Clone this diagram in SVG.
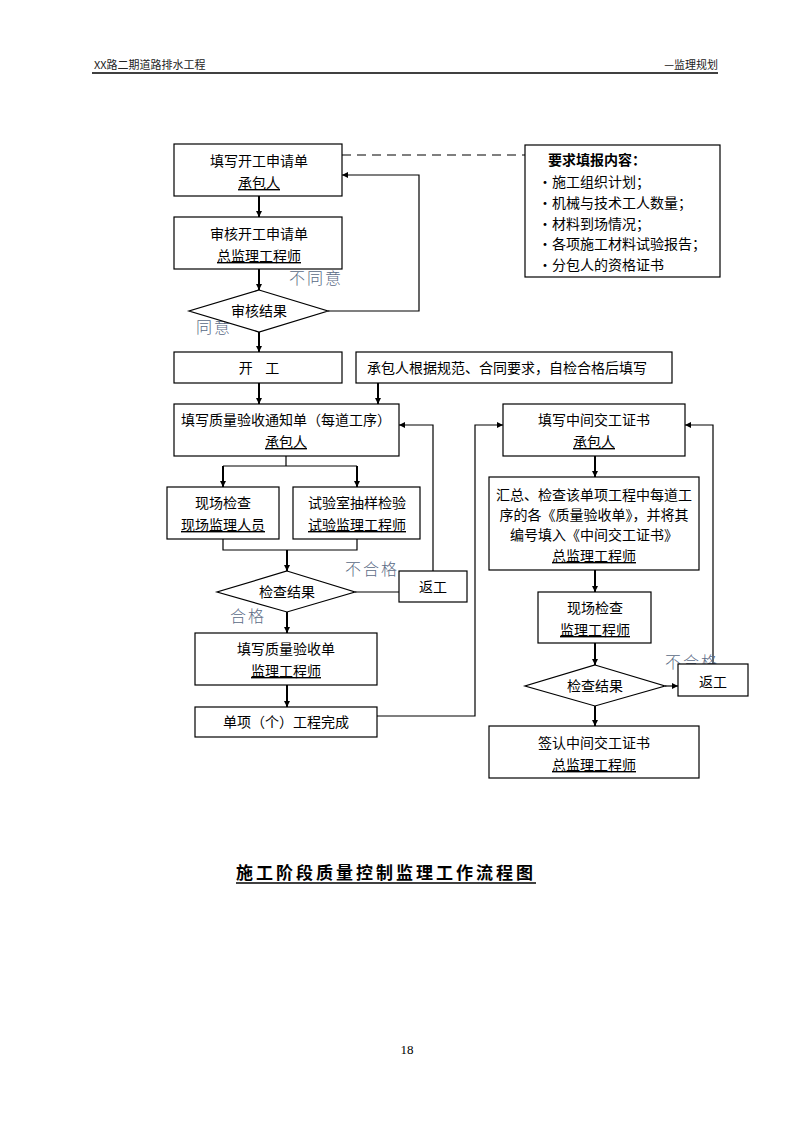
<svg xmlns="http://www.w3.org/2000/svg" width="794" height="1123" viewBox="0 0 794 1123">
<defs>
<marker id="ah" viewBox="0 0 10 10" refX="10" refY="5" markerWidth="6" markerHeight="6" markerUnits="userSpaceOnUse" orient="auto">
<path d="M0,0 L10,5 L0,10 z" fill="#000"/>
</marker>
</defs>
<style>
.box{fill:#fff;stroke:#000;stroke-width:1.2}
.t{font-family:"Noto Sans CJK SC","Noto Sans CJK JP",sans-serif;font-size:14px;fill:#000;text-anchor:middle}
.tl{font-family:"Noto Sans CJK SC","Noto Sans CJK JP",sans-serif;font-size:14px;fill:#000}
.u{text-decoration:underline}
.lab{font-family:"Noto Sans CJK SC","Noto Sans CJK JP",sans-serif;font-size:16px;fill:#5a6a85;letter-spacing:2px;font-weight:300}
.thick{stroke:#000;stroke-width:2;fill:none}
.thin{stroke:#000;stroke-width:1.2;fill:none}
.hdr{font-family:"Noto Sans CJK SC",sans-serif;font-size:11px;fill:#222}
</style>
<rect width="794" height="1123" fill="#fff"/>
<g id="header">
<text class="hdr" x="94" y="69">XX路二期道路排水工程</text>
<text class="hdr" x="718" y="69" text-anchor="end">—监理规划</text>
<line x1="92" y1="73" x2="718" y2="73" stroke="#000" stroke-width="1.5"/>
</g>
<g id="connectors">
<line x1="342" y1="155" x2="525" y2="155" stroke="#000" stroke-width="1.2" stroke-dasharray="9,6"/>
<line class="thick" x1="259" y1="196" x2="259" y2="217" marker-end="url(#ah)"/>
<line class="thick" x1="259" y1="269" x2="259" y2="290" marker-end="url(#ah)"/>
<polyline class="thin" points="328,311 419,311 419,175 342,175" marker-end="url(#ah)"/>
<line class="thick" x1="259" y1="332" x2="259" y2="352" marker-end="url(#ah)"/>
<line class="thick" x1="259" y1="383" x2="259" y2="404" marker-end="url(#ah)"/>
<line class="thick" x1="378" y1="383" x2="378" y2="404" marker-end="url(#ah)"/>
<line class="thin" x1="286" y1="456" x2="286" y2="466"/>
<line class="thin" x1="223" y1="466" x2="357" y2="466"/>
<line class="thick" x1="223" y1="466" x2="223" y2="487" marker-end="url(#ah)"/>
<line class="thick" x1="357" y1="466" x2="357" y2="487" marker-end="url(#ah)"/>
<polyline class="thin" points="223,539 223,550 357,550 357,539"/>
<line class="thick" x1="287" y1="550" x2="287" y2="571" marker-end="url(#ah)"/>
<line class="thin" x1="355" y1="592" x2="399" y2="592"/>
<polyline class="thin" points="433,571 433,425 399,425" marker-end="url(#ah)"/>
<line class="thick" x1="287" y1="612" x2="287" y2="633" marker-end="url(#ah)"/>
<line class="thick" x1="287" y1="685" x2="287" y2="707" marker-end="url(#ah)"/>
<polyline class="thin" points="377,716 475,716 475,425 503,425" marker-end="url(#ah)"/>
<line class="thick" x1="595" y1="456" x2="595" y2="477" marker-end="url(#ah)"/>
<line class="thick" x1="595" y1="570" x2="595" y2="592" marker-end="url(#ah)"/>
<line class="thick" x1="595" y1="643" x2="595" y2="665" marker-end="url(#ah)"/>
<line class="thin" x1="665" y1="686" x2="678" y2="686" marker-end="url(#ah)"/>
<polyline class="thin" points="713,664 713,425 685,425" marker-end="url(#ah)"/>
<line class="thick" x1="595" y1="706" x2="595" y2="726" marker-end="url(#ah)"/>
</g>
<g id="labels">
<text class="lab" x="289" y="284">不同意</text>
<text class="lab" x="196" y="333">同意</text>
<text class="lab" x="345" y="575">不合格</text>
<text class="lab" x="230" y="622">合格</text>
<text class="lab" x="665" y="668">不合格</text>
</g>
<g id="n1"><rect class="box" x="174" y="144" width="168" height="52"/>
<text class="t" x="259" y="166">填写开工申请单</text><text class="t u" x="259" y="188">承包人</text></g>
<g id="n2"><rect class="box" x="174" y="217" width="168" height="52"/>
<text class="t" x="259" y="239">审核开工申请单</text><text class="t u" x="259" y="261">总监理工程师</text></g>
<g id="n3"><polygon class="box" points="259,290 328,311 259,332 189,311"/>
<text class="t" x="259" y="316">审核结果</text></g>
<g id="n4"><rect class="box" x="525" y="145" width="195" height="132"/>
<text class="tl" x="548" y="165" font-weight="bold">要求填报内容：</text>
<text class="tl" x="538" y="187">·施工组织计划；</text>
<text class="tl" x="538" y="208">·机械与技术工人数量；</text>
<text class="tl" x="538" y="229">·材料到场情况；</text>
<text class="tl" x="538" y="249">·各项施工材料试验报告；</text>
<text class="tl" x="538" y="270">·分包人的资格证书</text></g>
<g id="n5"><rect class="box" x="174" y="352" width="168" height="31"/>
<text class="t" x="259" y="373" xml:space="preserve">开    工</text></g>
<g id="n6"><rect class="box" x="356" y="352" width="316" height="31"/>
<text class="t" x="507" y="373">承包人根据规范、合同要求，自检合格后填写</text></g>
<g id="n7"><rect class="box" x="174" y="404" width="225" height="52"/>
<text class="t" x="286" y="425">填写质量验收通知单（每道工序）</text><text class="t u" x="286" y="447">承包人</text></g>
<g id="n8"><rect class="box" x="167" y="487" width="112" height="52"/>
<text class="t" x="223" y="508">现场检查</text><text class="t u" x="223" y="530">现场监理人员</text></g>
<g id="n9"><rect class="box" x="293" y="487" width="127" height="52"/>
<text class="t" x="357" y="508">试验室抽样检验</text><text class="t u" x="357" y="530">试验监理工程师</text></g>
<g id="n10"><polygon class="box" points="287,571 355,592 287,612 217,592"/>
<text class="t" x="287" y="597">检查结果</text></g>
<g id="n11"><rect class="box" x="399" y="571" width="68" height="31"/>
<text class="t" x="433" y="592">返工</text></g>
<g id="n12"><rect class="box" x="195" y="633" width="182" height="52"/>
<text class="t" x="286" y="654">填写质量验收单</text><text class="t u" x="286" y="676">监理工程师</text></g>
<g id="n13"><rect class="box" x="195" y="707" width="182" height="30"/>
<text class="t" x="286" y="727">单项（个）工程完成</text></g>
<g id="n14"><rect class="box" x="503" y="404" width="182" height="52"/>
<text class="t" x="594" y="425">填写中间交工证书</text><text class="t u" x="594" y="447">承包人</text></g>
<g id="n15"><rect class="box" x="489" y="477" width="210" height="93"/>
<text class="t" x="594" y="500">汇总、检查该单项工程中每道工</text>
<text class="t" x="594" y="520">序的各《质量验收单》，并将其</text>
<text class="t" x="594" y="540">编号填入《中间交工证书》</text>
<text class="t u" x="594" y="561">总监理工程师</text></g>
<g id="n16"><rect class="box" x="538" y="592" width="113" height="51"/>
<text class="t" x="595" y="613">现场检查</text><text class="t u" x="595" y="635">监理工程师</text></g>
<g id="n17"><polygon class="box" points="595,665 665,686 595,706 525,686"/>
<text class="t" x="595" y="691">检查结果</text></g>
<g id="n18"><rect class="box" x="678" y="664" width="70" height="32"/>
<text class="t" x="713" y="687">返工</text></g>
<g id="n19"><rect class="box" x="489" y="726" width="210" height="52"/>
<text class="t" x="594" y="748">签认中间交工证书</text><text class="t u" x="594" y="770">总监理工程师</text></g>
<g id="title">
<text x="236" y="879" font-family="'Noto Sans CJK SC',sans-serif" font-size="17" font-weight="bold" letter-spacing="3" fill="#000">施工阶段质量控制监理工作流程图</text>
<line x1="236" y1="883" x2="536" y2="883" stroke="#000" stroke-width="1.5"/>
</g>
<text x="407" y="1054" font-family="'Liberation Serif',serif" font-size="13" text-anchor="middle" fill="#000">18</text>
</svg>
